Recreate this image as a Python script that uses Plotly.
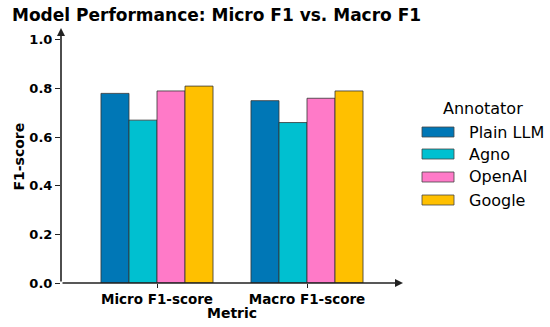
import plotly.graph_objects as go

categories = ["Micro F1-score", "Macro F1-score"]
annotators = ["Plain LLM", "Agno", "OpenAI", "Google"]
colors = ["#0077b6", "#00c0d0", "#ff7ac8", "#ffc000"]
scores = {
    "Plain LLM": [0.78, 0.75],
    "Agno": [0.67, 0.66],
    "OpenAI": [0.79, 0.76],
    "Google": [0.81, 0.79],
}
y_ticks = [0.0, 0.2, 0.4, 0.6, 0.8, 1.0]
y_tick_labels = ["0.0", "0.2", "0.4", "0.6", "0.8", "1.0"]

W, H = 550, 327
L, R, T, B = 61, 147, 28, 44
PW, PH = W - L - R, H - T - B
X_RANGE = [-0.64, 1.64]
Y_RANGE = [0, 1.049]


def px(x):
    return (x - L) / PW


def py(y):
    return (H - B - y) / PH


fig = go.Figure()
for name, col in zip(annotators, colors):
    fig.add_trace(go.Bar(
        x=[0, 1], y=scores[name], name=name,
        marker=dict(color=col, line=dict(color="#333333", width=0.8)),
        showlegend=False,
    ))

font = "DejaVu Sans, Liberation Sans, sans-serif"

fig.update_layout(
    width=W, height=H,
    margin=dict(l=L, r=R, t=T, b=B, autoexpand=False),
    paper_bgcolor="white", plot_bgcolor="white",
    barmode="group", bargap=0.253, bargroupgap=0,
    title=dict(text="Model Performance: Micro F1 vs. Macro F1",
               font=dict(family=font, size=17, color="black", weight="bold"),
               x=12 / W, xanchor="left", xref="container",
               y=1 - 15 / H, yanchor="middle", yref="container"),
    font=dict(family=font, color="black"),
)
fig.update_xaxes(
    range=X_RANGE, tickmode="array", tickvals=[0, 1], ticktext=categories,
    ticks="outside", ticklen=4, tickwidth=1, tickcolor="#222",
    tickfont=dict(family=font, size=13.5, color="black", weight="bold"),
    showline=False, showgrid=False, zeroline=False,
)
fig.update_yaxes(
    range=Y_RANGE, tickmode="array", tickvals=y_ticks, ticktext=y_tick_labels,
    ticks="outside", ticklen=5, tickwidth=1, tickcolor="#222",
    tickfont=dict(family=font, size=13, color="black", weight="bold"),
    showline=False, showgrid=False, zeroline=False,
)

# axis titles
fig.add_annotation(x=px(232), y=py(313), xref="paper", yref="paper",
                   text="Metric", showarrow=False, xanchor="center", yanchor="middle",
                   font=dict(family=font, size=14, color="black", weight="bold"))
fig.add_annotation(x=px(18.5), y=py(157), xref="paper", yref="paper",
                   text="F1-score", showarrow=False, textangle=-90,
                   xanchor="center", yanchor="middle",
                   font=dict(family=font, size=14, color="black", weight="bold"))

# axis arrows
fig.add_annotation(x=X_RANGE[1], y=0, ax=X_RANGE[0], ay=0, xref="x", yref="y",
                   axref="x", ayref="y", showarrow=True, arrowhead=2,
                   arrowsize=1, arrowwidth=1.6, arrowcolor="#222", text="")
fig.add_annotation(x=X_RANGE[0], y=Y_RANGE[1], ax=X_RANGE[0], ay=0, xref="x", yref="y",
                   axref="x", ayref="y", showarrow=True, arrowhead=2,
                   arrowsize=1, arrowwidth=1.6, arrowcolor="#222", text="")

# legend
fig.add_annotation(x=px(483), y=py(108), xref="paper", yref="paper",
                   text="Annotator", showarrow=False, xanchor="center", yanchor="middle",
                   font=dict(family=font, size=16, color="black"))
row_y = [132, 154, 177, 200]
for name, col, ry in zip(annotators, colors, row_y):
    fig.add_shape(type="rect", xref="paper", yref="paper",
                  x0=px(422), x1=px(454), y0=py(ry - 5), y1=py(ry + 5),
                  fillcolor=col, line=dict(color="#444", width=0.8))
    fig.add_annotation(x=px(467), y=py(ry), xref="paper", yref="paper",
                       text=name, showarrow=False, xanchor="left", yanchor="middle",
                       font=dict(family=font, size=16, color="black"))

fig.write_html("out.html", config={"displayModeBar": False},
               post_script="document.body.style.margin='0';document.body.style.padding='0';")
